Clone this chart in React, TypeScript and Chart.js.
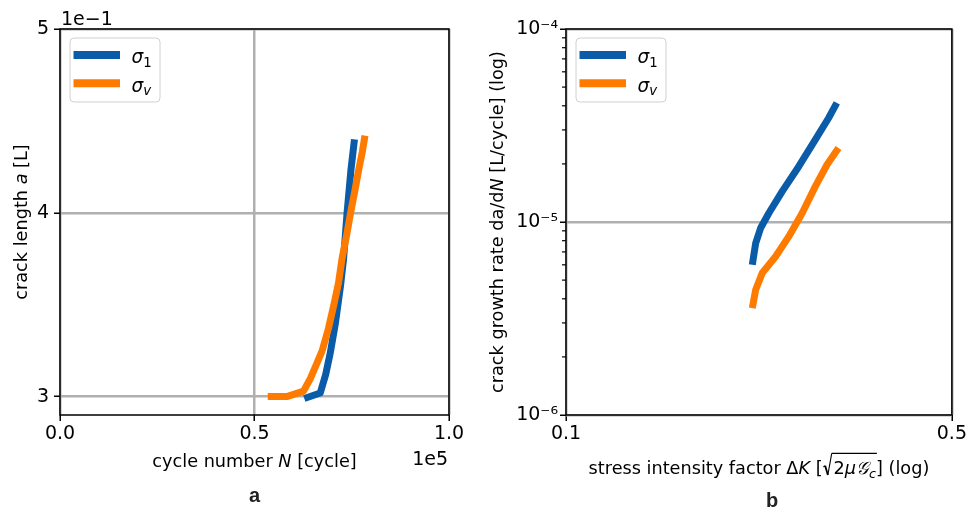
import React, { useEffect, useRef } from 'react';
import { Chart, registerables } from 'chart.js';

Chart.register(...registerables);

// ---------- data ----------
// panel a: crack length vs cycle number
const cyclesSigma1 = [62800, 66900, 68300, 69500, 70800, 72100, 72900, 73800, 74800, 75700];
const lengthSigma1 = [0.299, 0.302, 0.312, 0.324, 0.340, 0.360, 0.375, 0.400, 0.4235, 0.440];
const cyclesSigmaV = [53400, 58300, 62600, 64400, 66000, 67400, 69000, 70400, 71600, 72500, 73700, 74700, 75800, 76800, 77700, 78400];
const lengthSigmaV = [0.300, 0.300, 0.303, 0.310, 0.318, 0.325, 0.337, 0.350, 0.362, 0.375, 0.388, 0.400, 0.412, 0.4235, 0.433, 0.442];

// panel b: crack growth rate vs stress intensity factor
const dKSigma1 = [0.2175, 0.2206, 0.2252, 0.2331, 0.2464, 0.2640, 0.2829, 0.2990, 0.3094];
const rateSigma1 = [6.01e-6, 7.78e-6, 9.31e-6, 1.113e-5, 1.44e-5, 1.94e-5, 2.67e-5, 3.46e-5, 4.14e-5];
const dKSigmaV = [0.2175, 0.2206, 0.2267, 0.2397, 0.2533, 0.2677, 0.2829, 0.2970, 0.3116];
const rateSigmaV = [3.58e-6, 4.46e-6, 5.44e-6, 6.63e-6, 8.42e-6, 1.11e-5, 1.53e-5, 1.98e-5, 2.42e-5];

// ticks
const leftXTicks = [0, 50000, 100000];
const leftXTickLabels = ['0.0', '0.5', '1.0'];
const leftYTicks = [0.3, 0.4, 0.5];
const leftYTickLabels = ['3', '4', '5'];
const rightXTicks = [0.1, 0.5];
const rightXTickLabels = ['0.1', '0.5'];
const rightYTicks = [1e-6, 1e-5, 1e-4];
const rightYTickLabels = ['10⁻⁶', '10⁻⁵', '10⁻⁴'];
const rightYMinorTicks = [2e-6, 3e-6, 4e-6, 5e-6, 6e-6, 7e-6, 8e-6, 9e-6, 2e-5, 3e-5, 4e-5, 5e-5, 6e-5, 7e-5, 8e-5, 9e-5];

// ---------- styles ----------
const FONT = '"DejaVu Sans"';
const BLUE = '#0a5ca8';
const ORANGE = '#ff7b00';
const GRID = '#b0b0b0';
const FS = 17.7;
const TICK_FS = 19;

type Run = { t?: string; it?: boolean; sub?: boolean; rad?: boolean; ov?: boolean };

function runFont(r: Run, size: number) {
  return `${r.it ? 'italic ' : ''}${r.sub ? size * 0.72 : size}px ${FONT}`;
}

function drawRuns(
  ctx: CanvasRenderingContext2D,
  runs: Run[],
  x: number,
  y: number,
  size: number,
  align: 'left' | 'center' | 'right',
  rotate = false
) {
  ctx.save();
  const widths: number[] = [];
  let total = 0;
  for (const r of runs) {
    let w: number;
    if (r.rad) w = size * 0.62;
    else {
      ctx.font = runFont(r, size);
      w = ctx.measureText(r.t || '').width;
    }
    widths.push(w);
    total += w;
  }
  ctx.translate(x, y);
  if (rotate) ctx.rotate(-Math.PI / 2);
  let cx = align === 'center' ? -total / 2 : align === 'right' ? -total : 0;
  ctx.fillStyle = '#000';
  ctx.strokeStyle = '#000';
  ctx.textAlign = 'left';
  ctx.textBaseline = 'alphabetic';
  let ovStart = -1;
  let ovEnd = -1;
  const ovY = -size * 1.18;
  runs.forEach((r, i) => {
    if (r.rad) {
      ctx.beginPath();
      ctx.lineWidth = 1.2;
      ctx.moveTo(cx + size * 0.05, -size * 0.42);
      ctx.lineTo(cx + size * 0.15, -size * 0.48);
      ctx.stroke();
      ctx.beginPath();
      ctx.lineWidth = 1.8;
      ctx.moveTo(cx + size * 0.15, -size * 0.48);
      ctx.lineTo(cx + size * 0.3, size * 0.04);
      ctx.stroke();
      ctx.beginPath();
      ctx.lineWidth = 1.1;
      ctx.moveTo(cx + size * 0.3, size * 0.04);
      ctx.lineTo(cx + size * 0.52, ovY);
      ctx.stroke();
      ovStart = cx + size * 0.52;
    } else {
      ctx.font = runFont(r, size);
      ctx.fillText(r.t || '', cx, r.sub ? size * 0.2 : 0);
      if (r.ov) ovEnd = cx + widths[i] + size * 0.05;
    }
    cx += widths[i];
  });
  if (ovStart >= 0 && ovEnd > ovStart) {
    ctx.beginPath();
    ctx.lineWidth = 1.1;
    ctx.moveTo(ovStart, ovY);
    ctx.lineTo(ovEnd, ovY);
    ctx.stroke();
  }
  ctx.restore();
}

function drawLegend(ctx: CanvasRenderingContext2D, area: { left: number; top: number }) {
  const x0 = area.left + 10;
  const y0 = area.top + 9;
  ctx.save();
  ctx.beginPath();
  const w = 90, h = 64, r = 4;
  ctx.moveTo(x0 + r, y0);
  ctx.lineTo(x0 + w - r, y0);
  ctx.arcTo(x0 + w, y0, x0 + w, y0 + r, r);
  ctx.lineTo(x0 + w, y0 + h - r);
  ctx.arcTo(x0 + w, y0 + h, x0 + w - r, y0 + h, r);
  ctx.lineTo(x0 + r, y0 + h);
  ctx.arcTo(x0, y0 + h, x0, y0 + h - r, r);
  ctx.lineTo(x0, y0 + r);
  ctx.arcTo(x0, y0, x0 + r, y0, r);
  ctx.closePath();
  ctx.fillStyle = 'rgba(255,255,255,0.8)';
  ctx.fill();
  ctx.strokeStyle = '#d0d0d0';
  ctx.lineWidth = 1;
  ctx.stroke();
  ctx.lineCap = 'butt';
  ctx.lineWidth = 8;
  ctx.strokeStyle = BLUE;
  ctx.beginPath();
  ctx.moveTo(area.left + 13.5, area.top + 26);
  ctx.lineTo(area.left + 60, area.top + 26);
  ctx.stroke();
  ctx.strokeStyle = ORANGE;
  ctx.beginPath();
  ctx.moveTo(area.left + 13.5, area.top + 54.3);
  ctx.lineTo(area.left + 60, area.top + 54.3);
  ctx.stroke();
  ctx.restore();
  drawRuns(ctx, [{ t: 'σ', it: true }, { t: '1', sub: true }], area.left + 71.5, area.top + 34.3, 18.5, 'left');
  drawRuns(ctx, [{ t: 'σ', it: true }, { t: 'v', it: true, sub: true }], area.left + 71.5, area.top + 62.7, 18.5, 'left');
}

function drawSpines(chart: Chart) {
  const { ctx, chartArea: a } = chart;
  ctx.save();
  ctx.strokeStyle = '#000';
  ctx.lineWidth = 1.5;
  ctx.strokeRect(a.left, a.top, a.right - a.left, a.bottom - a.top);
  ctx.restore();
}

const tickFont = { family: 'DejaVu Sans', size: TICK_FS };

const gridOpts = {
  color: GRID,
  lineWidth: 2.5,
  tickColor: '#000',
  tickLength: 6,
  tickWidth: 1.5,
};

function makeDataset(label: string, xs: number[], ys: number[], color: string, order: number) {
  return {
    label,
    data: xs.map((v, i) => ({ x: v, y: ys[i] })),
    borderColor: color,
    borderWidth: 7,
    pointRadius: 0,
    tension: 0,
    fill: false,
    borderCapStyle: 'butt',
    borderJoinStyle: 'round',
    order,
  };
}

function drawSubLabel(ctx: CanvasRenderingContext2D, t: string, x: number, y: number) {
  ctx.save();
  ctx.font = `bold 20px "Liberation Sans"`;
  ctx.fillStyle = '#222';
  ctx.textAlign = 'center';
  ctx.textBaseline = 'alphabetic';
  ctx.fillText(t, x, y);
  ctx.restore();
}

function leftConfig(): any {
  return {
    type: 'line',
    data: {
      datasets: [
        makeDataset('σ1', cyclesSigma1, lengthSigma1, BLUE, 1),
        makeDataset('σv', cyclesSigmaV, lengthSigmaV, ORANGE, 0),
      ],
    },
    options: {
      responsive: false,
      animation: false,
      devicePixelRatio: 1,
      events: [],
      layout: { padding: { left: 0, right: 31, top: 29, bottom: 0 } },
      plugins: { legend: { display: false }, tooltip: { enabled: false } },
      scales: {
        x: {
          type: 'linear',
          min: 0,
          max: 100000,
          afterBuildTicks: (s: any) => {
            s.ticks = leftXTicks.map((v) => ({ value: v }));
          },
          afterFit: (s: any) => {
            s.height = 94;
          },
          grid: gridOpts,
          border: { display: false },
          ticks: {
            font: tickFont,
            color: '#000',
            padding: 2,
            maxRotation: 0,
            autoSkip: false,
            callback: (_v: any, i: number) => leftXTickLabels[i],
          },
        },
        y: {
          type: 'linear',
          min: 0.29,
          max: 0.5,
          afterBuildTicks: (s: any) => {
            s.ticks = leftYTicks.map((v) => ({ value: v }));
          },
          afterFit: (s: any) => {
            s.width = 60;
          },
          grid: gridOpts,
          border: { display: false },
          ticks: {
            font: tickFont,
            color: '#000',
            padding: 5,
            autoSkip: false,
            callback: (_v: any, i: number) => leftYTickLabels[i],
          },
        },
      },
    },
    plugins: [
      {
        id: 'leftDecor',
        afterDatasetsDraw: (chart: Chart) => drawSpines(chart),
        afterDraw: (chart: Chart) => {
          const ctx = chart.ctx;
          const a = chart.chartArea;
          const cxp = (a.left + a.right) / 2;
          const cyp = (a.top + a.bottom) / 2;
          drawRuns(ctx, [{ t: 'cycle number ' }, { t: 'N', it: true }, { t: ' [cycle]' }], cxp, 466.7, FS, 'center');
          drawRuns(ctx, [{ t: 'crack length ' }, { t: 'a', it: true }, { t: ' [L]' }], 27.3, cyp, FS, 'center', true);
          drawRuns(ctx, [{ t: '1e−1' }], a.left + 1, 25, TICK_FS, 'left');
          drawRuns(ctx, [{ t: '1e5' }], a.right - 1, 465, TICK_FS, 'right');
          drawSubLabel(ctx, 'a', cxp, 501.5);
          drawLegend(ctx, a);
        },
      },
    ],
  };
}

function rightConfig(): any {
  return {
    type: 'line',
    data: {
      datasets: [
        makeDataset('σ1', dKSigma1, rateSigma1, BLUE, 1),
        makeDataset('σv', dKSigmaV, rateSigmaV, ORANGE, 0),
      ],
    },
    options: {
      responsive: false,
      animation: false,
      devicePixelRatio: 1,
      events: [],
      layout: { padding: { left: 0, right: 15, top: 29, bottom: 0 } },
      plugins: { legend: { display: false }, tooltip: { enabled: false } },
      scales: {
        x: {
          type: 'logarithmic',
          min: 0.1,
          max: 0.5,
          afterBuildTicks: (s: any) => {
            s.ticks = rightXTicks.map((v) => ({ value: v }));
          },
          afterFit: (s: any) => {
            s.height = 94;
          },
          grid: gridOpts,
          border: { display: false },
          ticks: {
            font: tickFont,
            color: '#000',
            padding: 2,
            maxRotation: 0,
            autoSkip: false,
            callback: (_v: any, i: number) => rightXTickLabels[i],
          },
        },
        y: {
          type: 'logarithmic',
          min: 1e-6,
          max: 1e-4,
          afterBuildTicks: (s: any) => {
            s.ticks = rightYTicks.map((v) => ({ value: v }));
          },
          afterFit: (s: any) => {
            s.width = 86;
          },
          grid: gridOpts,
          border: { display: false },
          ticks: {
            font: tickFont,
            color: '#000',
            padding: 2,
            autoSkip: false,
            callback: (_v: any, i: number) => rightYTickLabels[i],
          },
        },
      },
    },
    plugins: [
      {
        id: 'rightDecor',
        afterDatasetsDraw: (chart: Chart) => drawSpines(chart),
        afterDraw: (chart: Chart) => {
          const ctx = chart.ctx;
          const a = chart.chartArea;
          const cxp = (a.left + a.right) / 2;
          const cyp = (a.top + a.bottom) / 2;
          const ys = chart.scales.y;
          ctx.save();
          ctx.strokeStyle = '#000';
          ctx.lineWidth = 1.2;
          for (const v of rightYMinorTicks) {
            const py = ys.getPixelForValue(v);
            ctx.beginPath();
            ctx.moveTo(a.left - 4, py);
            ctx.lineTo(a.left, py);
            ctx.stroke();
          }
          ctx.restore();
          drawRuns(
            ctx,
            [
              { t: 'stress intensity factor Δ' },
              { t: 'K', it: true },
              { t: ' [' },
              { rad: true },
              { t: '2', ov: true },
              { t: 'μ', it: true, ov: true },
              { t: '𝒢', it: true, ov: true },
              { t: 'c', it: true, sub: true, ov: true },
              { t: '] (log)' },
            ],
            cxp,
            474.3,
            FS,
            'center'
          );
          drawRuns(
            ctx,
            [{ t: 'crack growth rate da/d' }, { t: 'N', it: true }, { t: ' [L/cycle] (log)' }],
            22.7,
            cyp,
            FS,
            'center',
            true
          );
          drawSubLabel(ctx, 'b', 292, 506.5);
          drawLegend(ctx, a);
        },
      },
    ],
  };
}

export default function App() {
  const leftRef = useRef<HTMLCanvasElement>(null);
  const rightRef = useRef<HTMLCanvasElement>(null);
  useEffect(() => {
    const c1 = new Chart(leftRef.current as HTMLCanvasElement, leftConfig());
    const c2 = new Chart(rightRef.current as HTMLCanvasElement, rightConfig());
    return () => {
      c1.destroy();
      c2.destroy();
    };
  }, []);
  return (
    <div style={{ position: 'absolute', left: 0, top: 0, width: 969, height: 509, background: '#fff' }}>
      <canvas
        ref={leftRef}
        width={480}
        height={509}
        style={{ position: 'absolute', left: 0, top: 0, width: 480, height: 509 }}
      />
      <canvas
        ref={rightRef}
        width={489}
        height={509}
        style={{ position: 'absolute', left: 480, top: 0, width: 489, height: 509 }}
      />
    </div>
  );
}
